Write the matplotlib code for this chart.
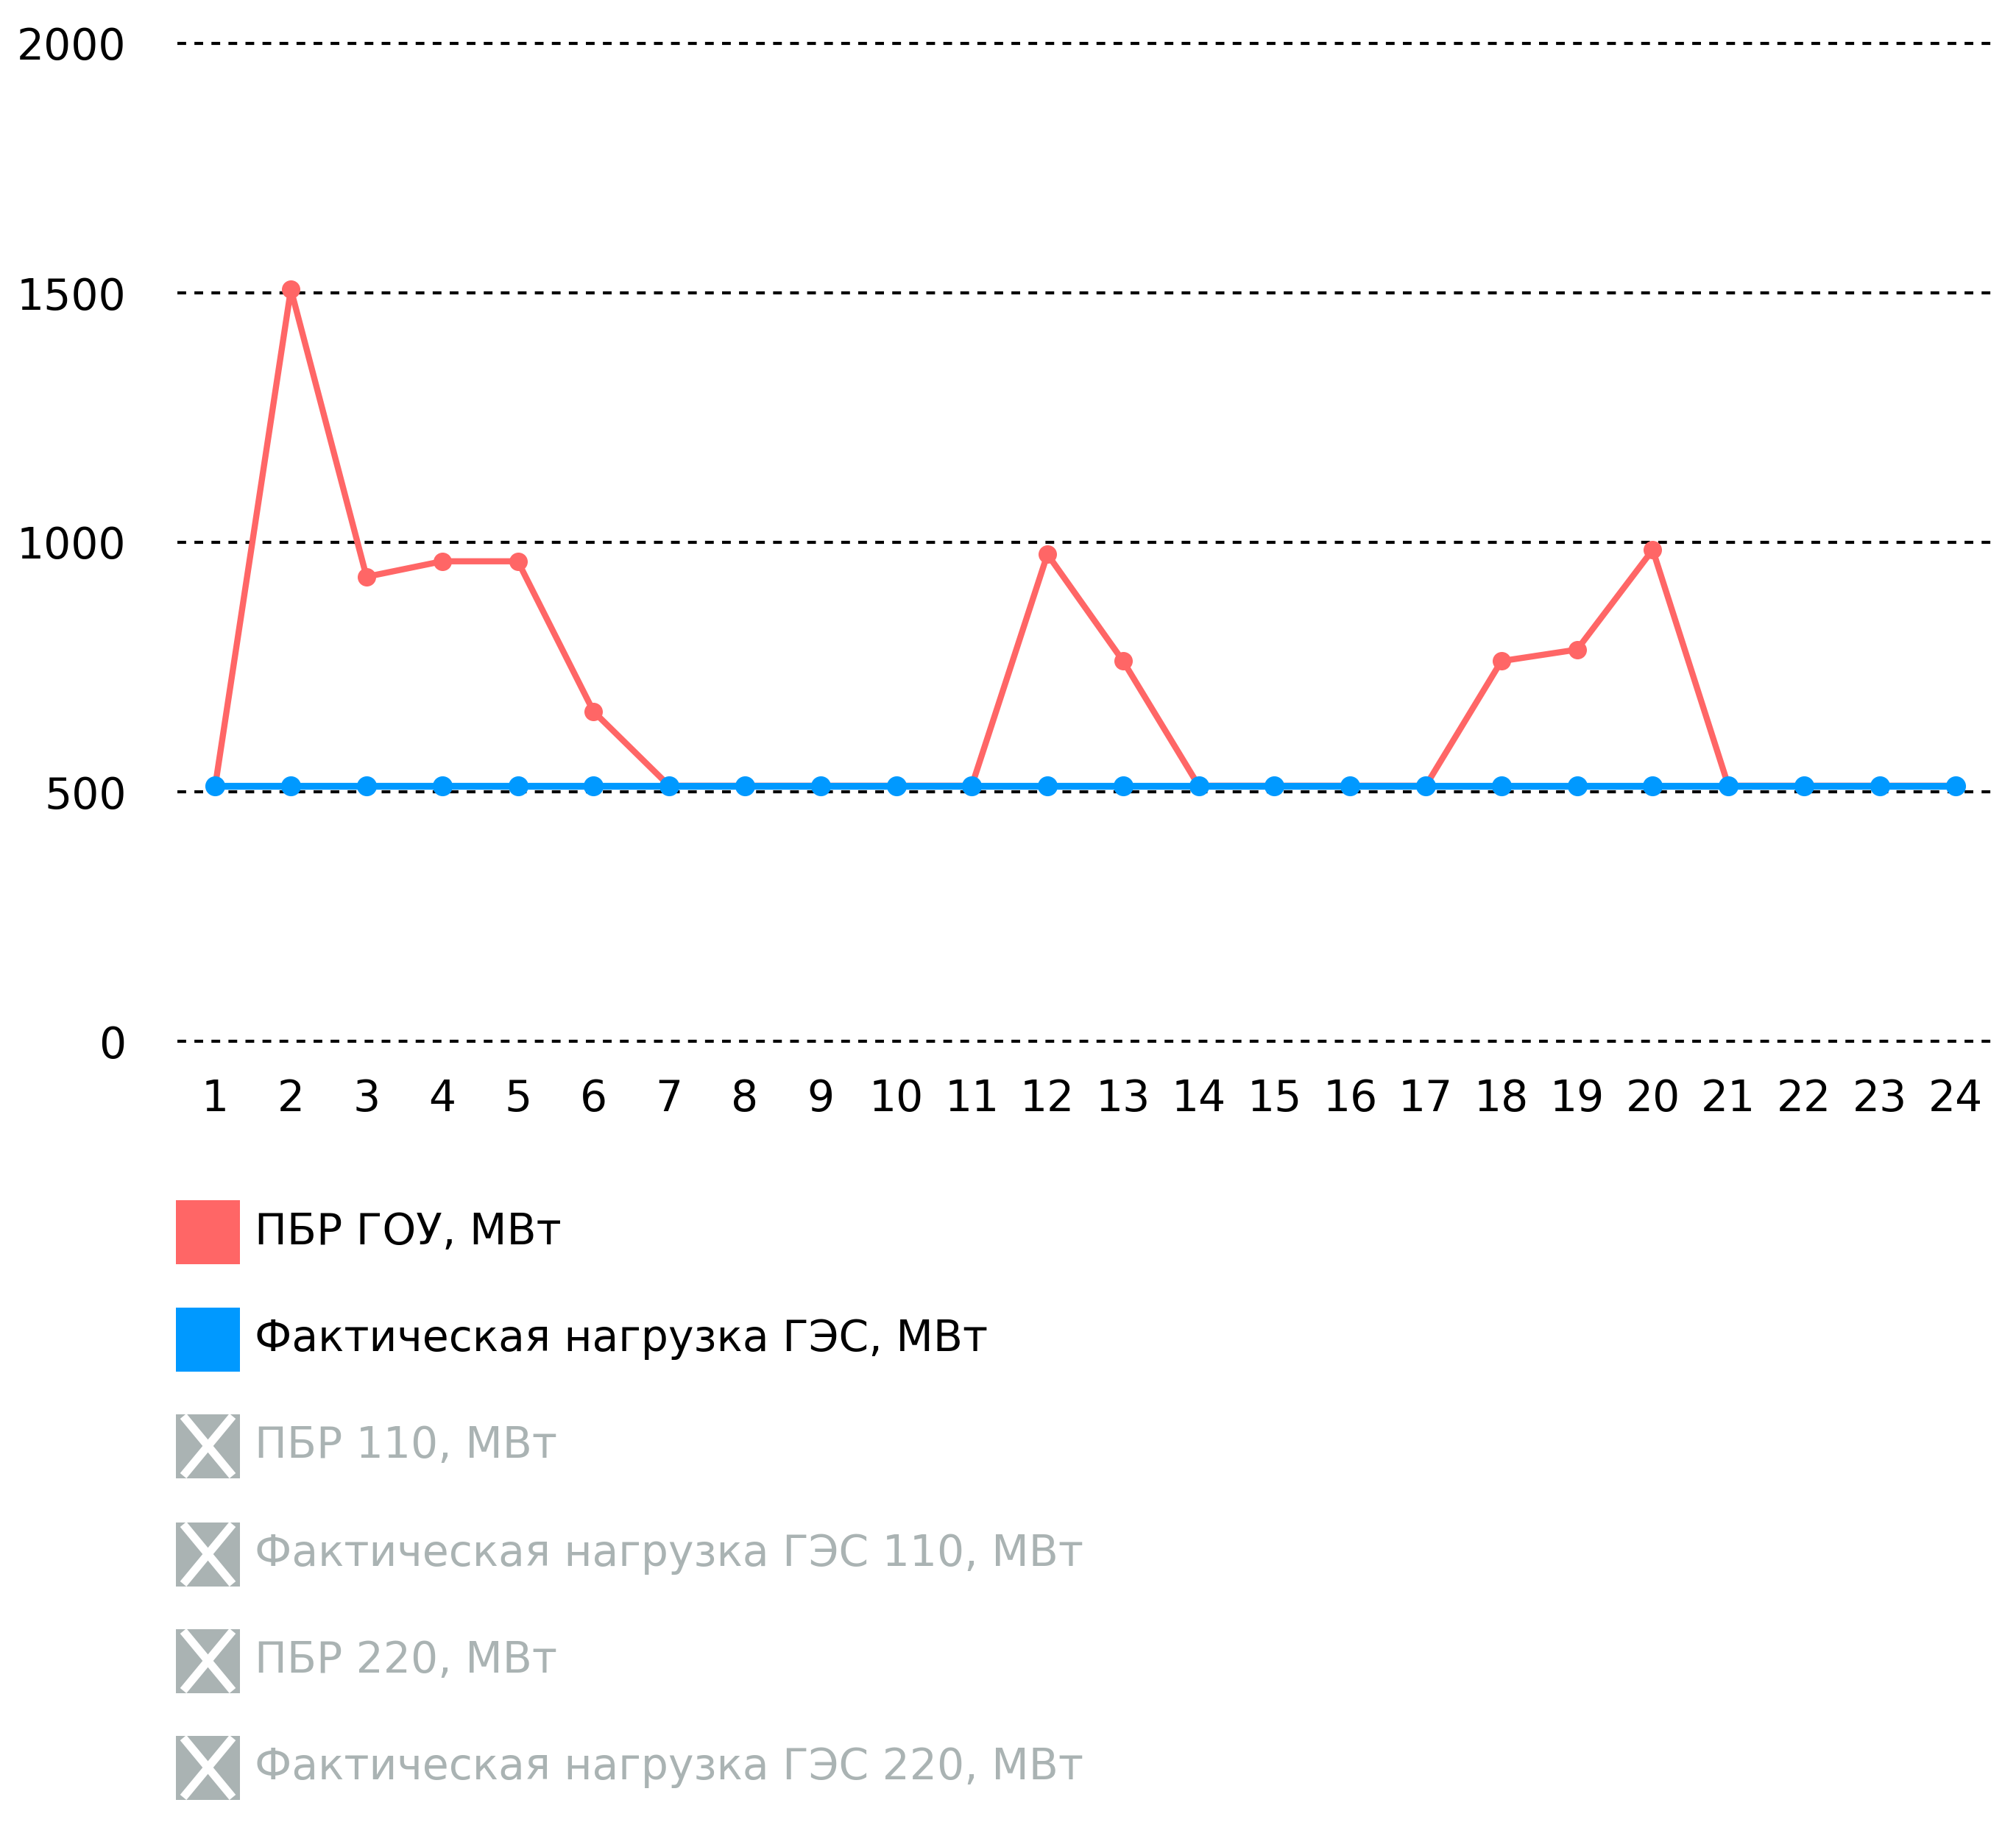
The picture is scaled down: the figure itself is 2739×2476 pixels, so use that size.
import matplotlib
matplotlib.use("Agg")
import matplotlib.pyplot as plt
from matplotlib.patches import Rectangle
from matplotlib.lines import Line2D

plt.rcParams['font.family'] = ['DejaVu Sans']

hours = list(range(1, 25))
pbr_gou = [512, 1507, 931, 962, 962, 661, 512, 512, 512, 512, 512, 976,
           762, 512, 512, 512, 512, 762, 785, 985, 512, 512, 512, 512]
fact_ges = [512] * 24
y_ticks = [0, 500, 1000, 1500, 2000]
legend_labels = ["ПБР ГОУ, МВт", "Фактическая нагрузка ГЭС, МВт", "ПБР 110, МВт",
                 "Фактическая нагрузка ГЭС 110, МВт", "ПБР 220, МВт",
                 "Фактическая нагрузка ГЭС 220, МВт"]
legend_active = [True, True, False, False, False, False]

RED = '#ff6666'
BLUE = '#0099ff'
GRAY = '#aab3b3'

W, H = 2739, 2476
fig = plt.figure(figsize=(W / 100, H / 100), dpi=100)
ax = fig.add_axes([241 / W, 1 - 1415 / H, (2708 - 241) / W, (1415 - 59) / H])
ax.set_xlim(0.5, 24.5)
ax.set_ylim(0, 2000)
for s in ax.spines.values():
    s.set_visible(False)

for v in y_ticks:
    ax.axhline(v, color='black', lw=3.0, linestyle=(0, (2.85, 2.7)), clip_on=False, zorder=1)

ax.plot(hours, pbr_gou, color=RED, lw=6.0, marker='o', ms=17, zorder=3,
        clip_on=False, solid_joinstyle='round')
ax.plot(hours, fact_ges, color=BLUE, lw=6.7, marker='o', ms=18.5, zorder=4,
        clip_on=False)

ax.set_xticks(hours)
ax.set_xticklabels([str(h) for h in hours])
ax.set_yticks(y_ticks)
ax.set_yticklabels([str(v) for v in y_ticks])
ax.tick_params(axis='both', length=0, labelsize=42, colors='black')
ax.tick_params(axis='x', pad=36)
ax.tick_params(axis='y', pad=50)

# legend
centers = [1674, 1820, 1965, 2112, 2257, 2402]
sq = 87
x0 = 239
for lab, act, cy in zip(legend_labels, legend_active, centers):
    if act:
        color = RED if lab == legend_labels[0] else BLUE
    else:
        color = GRAY
    fig.add_artist(Rectangle((x0 / W, 1 - (cy + sq / 2) / H), sq / W, sq / H,
                             transform=fig.transFigure, facecolor=color,
                             edgecolor='none'))
    if not act:
        l, r = (x0 + 10) / W, (x0 + sq - 10) / W
        t, b = 1 - (cy - sq / 2 + 3) / H, 1 - (cy + sq / 2 - 3) / H
        fig.add_artist(Line2D([l, r], [t, b], transform=fig.transFigure,
                              color='white', lw=8, solid_capstyle='butt'))
        fig.add_artist(Line2D([r, l], [t, b], transform=fig.transFigure,
                              color='white', lw=8, solid_capstyle='butt'))
    fig.text(346 / W, 1 - cy / H, lab, fontsize=42,
             color='black' if act else GRAY, va='center', ha='left')

fig.savefig('out.png', dpi=100, facecolor='white')
